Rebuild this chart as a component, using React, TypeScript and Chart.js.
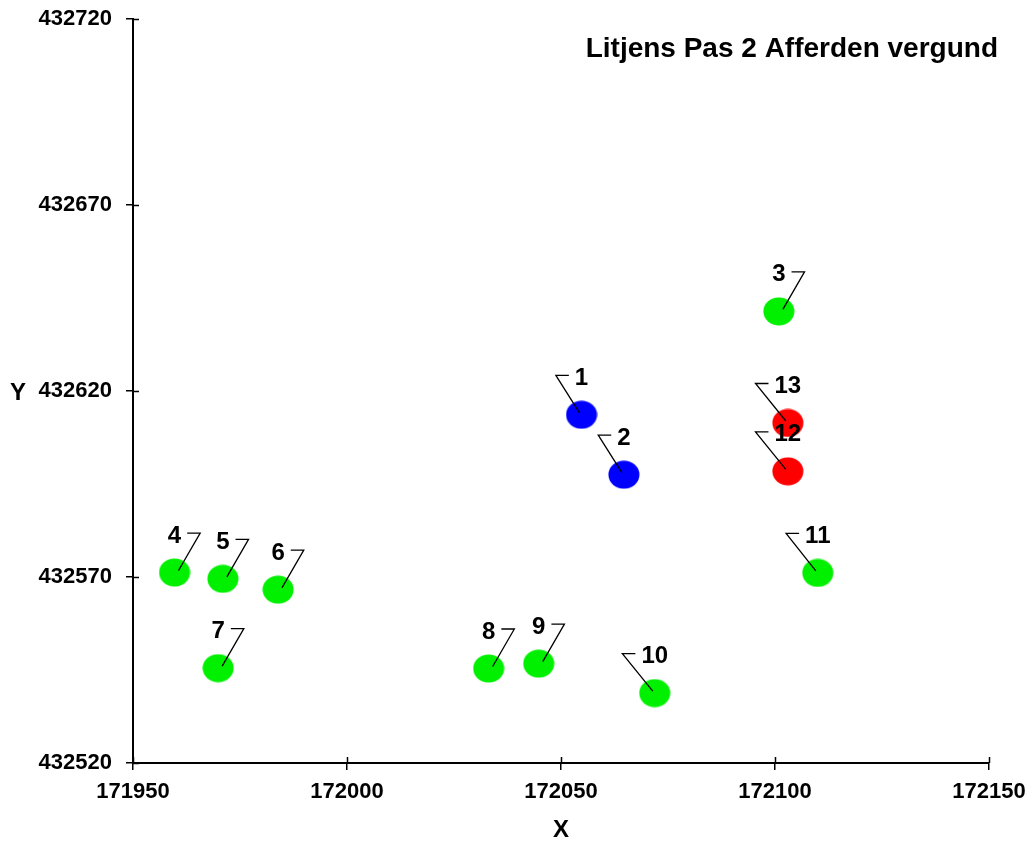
import { useEffect, useRef } from 'react';
import { Chart, registerables } from 'chart.js';

Chart.register(...registerables);

const TITLE = 'Litjens Pas 2 Afferden vergund';
const X_TITLE = 'X';
const Y_TITLE = 'Y';
const X_MIN = 171950;
const X_MAX = 172150;
const X_STEP = 50;
const Y_MIN = 432520;
const Y_MAX = 432720;
const Y_STEP = 50;

const blueLabels = ['1', '2'];
const blueX = [172054.8, 172064.7];
const blueY = [432613.6, 432597.5];
const blueSides = ['left', 'left'];

const greenLabels = ['3', '4', '5', '6', '7', '8', '9', '10', '11'];
const greenX = [172100.9, 171959.7, 171971.0, 171983.9, 171969.9, 172033.1, 172044.8, 172071.9, 172110.0];
const greenY = [432641.4, 432571.2, 432569.5, 432566.6, 432545.5, 432545.4, 432546.7, 432538.8, 432571.1];
const greenSides = ['right', 'right', 'right', 'right', 'right', 'right', 'right', 'left', 'left'];

const redLabels = ['12', '13'];
const redX = [172103.0, 172103.0];
const redY = [432598.4, 432611.4];
const redSides = ['left', 'left'];

const FONT = '"Liberation Sans", Arial, sans-serif';

function makeEllipse(color: string) {
  const c = document.createElement('canvas');
  c.width = 32;
  c.height = 29;
  const g = c.getContext('2d')!;
  g.fillStyle = color;
  g.beginPath();
  g.ellipse(16, 14.5, 15.5, 14, 0, 0, Math.PI * 2);
  g.fill();
  return c;
}

const labelSets = [
  { labels: blueLabels, sides: blueSides },
  { labels: greenLabels, sides: greenSides },
  { labels: redLabels, sides: redSides },
];

const annotatePlugin = {
  id: 'annotate',
  afterDatasetsDraw(chart: any) {
    const ctx = chart.ctx as CanvasRenderingContext2D;
    const xs = chart.scales.x;
    const ys = chart.scales.y;
    const area = chart.chartArea;
    ctx.save();
    // inward tick marks
    ctx.strokeStyle = '#000';
    ctx.lineWidth = 1.5;
    ctx.beginPath();
    xs.ticks.forEach((t: any) => {
      const px = Math.round(xs.getPixelForValue(t.value)) + 0.5;
      ctx.moveTo(px, area.bottom);
      ctx.lineTo(px, area.bottom - 6);
    });
    ys.ticks.forEach((t: any) => {
      const py = Math.round(ys.getPixelForValue(t.value)) + 0.5;
      ctx.moveTo(area.left, py);
      ctx.lineTo(area.left + 6, py);
    });
    ctx.stroke();

    // point labels with leader lines
    ctx.font = `bold 24px ${FONT}`;
    ctx.textAlign = 'center';
    ctx.textBaseline = 'alphabetic';
    chart.data.datasets.forEach((_ds: any, di: number) => {
      const meta = chart.getDatasetMeta(di);
      const set = labelSets[di];
      meta.data.forEach((pt: any, i: number) => {
        const { x, y } = pt.getProps(['x', 'y'], true);
        const text = set.labels[i];
        const w = ctx.measureText(text).width;
        const ly = y - 39.5;
        ctx.strokeStyle = '#000';
        ctx.lineWidth = 1.3;
        ctx.beginPath();
        if (set.sides[i] === 'right') {
          const end = x + w / 2 + 6;
          const corner = end + 13;
          ctx.moveTo(x + 4, y - 2);
          ctx.lineTo(corner, ly);
          ctx.lineTo(end, ly);
        } else {
          const end = x - w / 2 - 6;
          const corner = end - 13;
          ctx.moveTo(x - 2, y - 2);
          ctx.lineTo(corner, ly);
          ctx.lineTo(end, ly);
        }
        ctx.stroke();
        ctx.fillStyle = '#000';
        ctx.fillText(text, x, y - 30);
      });
    });

    // titles
    ctx.fillStyle = '#000';
    ctx.font = `bold 28px ${FONT}`;
    ctx.textAlign = 'right';
    ctx.fillText(TITLE, area.right + 9, 57);
    ctx.font = `bold 24px ${FONT}`;
    ctx.textAlign = 'center';
    ctx.fillText(X_TITLE, (area.left + area.right) / 2, 837);
    ctx.fillText(Y_TITLE, 18, (area.top + area.bottom) / 2 + 9);
    ctx.restore();
  },
};

function zeroPad(s: any) {
  s.paddingTop = 0;
  s.paddingBottom = 0;
  s.paddingLeft = 0;
  s.paddingRight = 0;
}

export default function App() {
  const ref = useRef<HTMLCanvasElement>(null);
  useEffect(() => {
    document.body.style.margin = '0';
    const tickFont = { family: FONT, size: 22, weight: 'bold' as const };
    const chart = new Chart(ref.current!, {
      type: 'scatter',
      data: {
        datasets: [
          {
            label: 'blue',
            data: blueX.map((x, i) => ({ x, y: blueY[i] })),
            pointStyle: makeEllipse('#0000ff'),
          },
          {
            label: 'green',
            data: greenX.map((x, i) => ({ x, y: greenY[i] })),
            pointStyle: makeEllipse('#00f000'),
          },
          {
            label: 'red',
            data: redX.map((x, i) => ({ x, y: redY[i] })),
            pointStyle: makeEllipse('#ff0000'),
          },
        ],
      },
      options: {
        responsive: false,
        animation: false,
        layout: { padding: { left: 0, top: 19, right: 40, bottom: 0 } },
        plugins: { legend: { display: false }, tooltip: { enabled: false }, title: { display: false } },
        scales: {
          x: {
            type: 'linear',
            min: X_MIN,
            max: X_MAX,
            ticks: { stepSize: X_STEP, font: tickFont, color: '#000', padding: 9, callback: (v: any) => String(v) },
            grid: { drawOnChartArea: false, tickLength: 7, color: '#000', lineWidth: 1.5 },
            border: { color: '#000', width: 2 },
            afterFit: (s: any) => { s.height = 78; zeroPad(s); },
          },
          y: {
            type: 'linear',
            min: Y_MIN,
            max: Y_MAX,
            ticks: { stepSize: Y_STEP, font: tickFont, color: '#000', padding: 14, callback: (v: any) => String(v) },
            grid: { drawOnChartArea: false, tickLength: 7, color: '#000', lineWidth: 1.5 },
            border: { color: '#000', width: 2 },
            afterFit: (s: any) => { s.width = 133; zeroPad(s); },
          },
        },
      },
      plugins: [annotatePlugin],
    });
    return () => chart.destroy();
  }, []);
  return (
    <div style={{ width: 1029, height: 841 }}>
      <canvas ref={ref} width={1029} height={841} style={{ display: 'block' }} />
    </div>
  );
}
